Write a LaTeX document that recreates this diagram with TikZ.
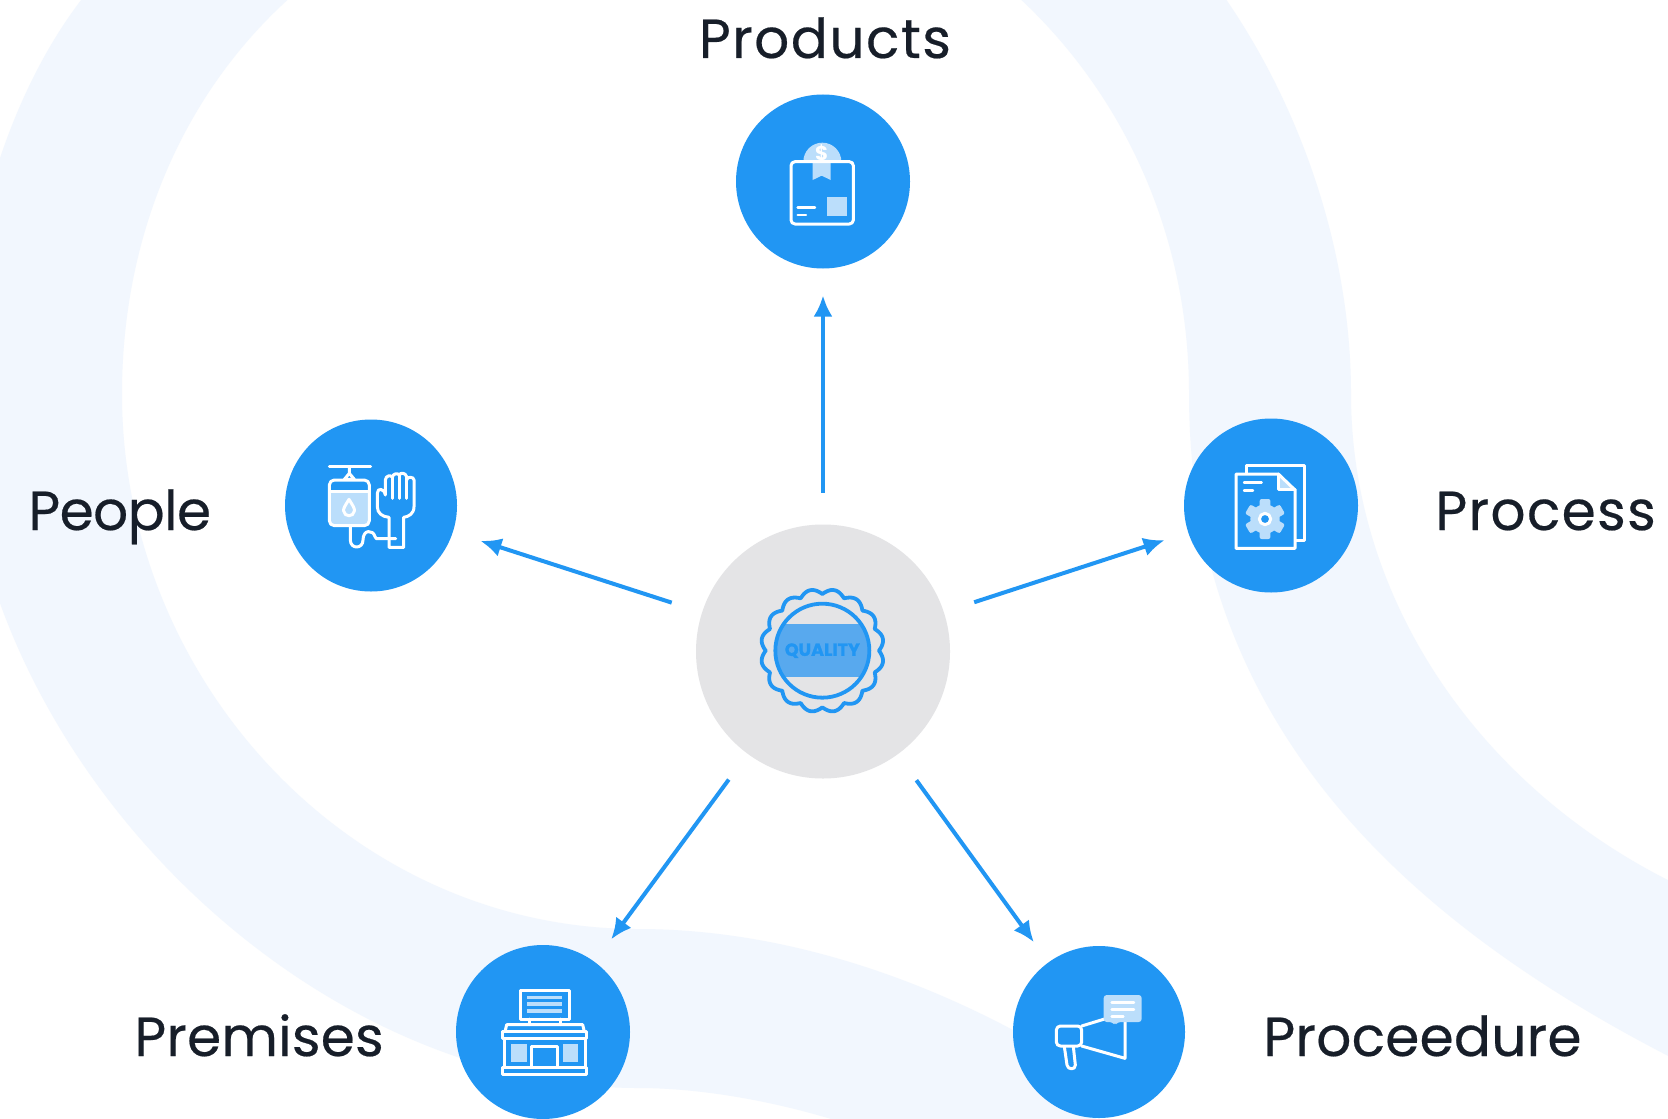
\documentclass[tikz,border=0pt]{standalone}
\usepackage{fontspec}
\setmainfont{Poppins}
\usetikzlibrary{arrows.meta}
\definecolor{qblue}{HTML}{2196F3}
\definecolor{qgrey}{HTML}{E4E4E6}
\definecolor{qband}{HTML}{F2F7FE}
\definecolor{qpale}{HTML}{BBDEFB}
\definecolor{qmid}{HTML}{58A9EE}
\definecolor{qink}{HTML}{171E29}
\newcommand{\spaced}[2]{{\addfontfeature{LetterSpace=#1,FakeBold=0.35}#2}}
\tikzset{
  disc/.style={circle,fill=qblue,minimum size=#1,inner sep=0pt,outer sep=0pt},
  hub/.style={circle,fill=qgrey,minimum size=127pt,inner sep=0pt,outer sep=0pt},
  link/.style={draw=qblue,line width=2pt,-{Latex[length=10.5pt,width=9.5pt]},shorten <=16pt,shorten >=12.5pt},
  title/.style={anchor=base west,text=qink,font=\fontsize{27.5}{32}\selectfont,inner sep=0pt},
  zoomunits/.style={x=0.16667pt,y=-0.16667pt},
  wline/.style={draw=white,line width=1.5pt,line join=round,line cap=round},
  pfill/.style={fill=qpale,draw=none}
}
\begin{document}
\begin{tikzpicture}[x=0.5pt,y=-0.5pt]
\useasboundingbox (0,0) rectangle (1668,1118);
\clip (0,0) rectangle (1668,1118);
\fill[white] (0,0) rectangle (1668,1118);
% background bands
\fill[qband] (85,-5) .. controls (10,90) and (-38,240) .. (-38,394)
  .. controls (-38,750) and (300,1088) .. (638,1088)
  .. controls (710,1088) and (790,1105) .. (850,1125)
  -- (1100,1125) .. controls (1075,1085) and (1045,1050) .. (1013,1030)
  .. controls (900,970) and (770,929) .. (638,929)
  .. controls (350,929) and (122,680) .. (122,394)
  .. controls (122,240) and (180,95) .. (293,-5) -- cycle;
\fill[qband] (1016,-5) .. controls (1120,90) and (1189,230) .. (1189,394)
  .. controls (1189,720) and (1400,920) .. (1680,1062)
  -- (1680,886) .. controls (1480,790) and (1351,600) .. (1351,394)
  .. controls (1351,250) and (1300,105) .. (1223,-5) -- cycle;
% nodes
\node[hub] (quality) at (823,651.5) {};
\node[disc=87pt] (products) at (823,181.5) {};
\node[disc=86pt] (people) at (371,505.5) {};
\node[disc=87pt] (process) at (1271,505.5) {};
\node[disc=87pt] (premises) at (543,1032) {};
\node[disc=86pt] (proceedure) at (1099,1032) {};
% connectors
\draw[link,shorten >=13.5pt] (quality) -- (products);
\draw[link,shorten >=14.5pt] (quality) -- (people);
\draw[link] (quality) -- (process);
\draw[link,shorten >=14pt] (quality) -- (premises);
\draw[link] (quality) -- (proceedure);
% labels
\node[title] (lproducts) at (698.5,58) {\spaced{2.6}{Products}};
\node[title] (lpeople) at (28,530) {\spaced{-1.2}{People}};
\node[title] (lprocess) at (1435,530) {\spaced{2.4}{Process}};
\node[title] (lpremises) at (134,1056) {\spaced{0.3}{Premises}};
\node[title] (lproceedure) at (1263,1056) {\spaced{0.4}{Proceedure}};
% centre seal
\begin{scope}[shift={(690,520)},zoomunits]
  \begin{scope}
    \clip (397,392) circle (141);
    \fill[qmid] (240,312) rectangle (550,472);
  \end{scope}
  \draw[qblue,line width=1.9pt] (397,392) circle (141);
  \draw[qblue,line width=1.9pt,line join=round] plot[domain=0:360,samples=321,variable=\t] ({397+(170+15*abs(sin(8*\t)))*cos(\t)},{392+(170+15*abs(sin(8*\t)))*sin(\t)}) -- cycle;
  \node[text=qblue,font=\fontsize{8.8}{11}\bfseries\selectfont,inner sep=0pt] (qtext) at (397,392) {\addfontfeature{FakeBold=1.2}QUALITY};
\end{scope}
% products icon
\begin{scope}[shift={(720,90)},zoomunits]
  \fill[qpale] (250,215) arc[start angle=180,end angle=360,radius=57] -- cycle;
  \fill[qpale] (278,215) -- (332,215) -- (332,270) -- (305,257) -- (278,270) -- cycle;
  \node[text=white,font=\fontsize{10}{11}\bfseries\selectfont,inner sep=0pt] (dollar) at (305,190) {\$};
  \fill[qpale] (322,320) rectangle (382,378);
  \draw[wline,rounded corners=2pt] (213,215) rectangle (400,402);
  \draw[wline,line width=1.2pt] (233,353) -- (285,353);
  \draw[wline,line width=1.2pt] (233,375) -- (258,375);
\end{scope}
% people icon
\begin{scope}[shift={(275,410)},zoomunits]
  \fill[qpale] (165,243) -- (281,243) -- (281,335) -- (270,345) -- (175,345) -- (165,335) -- cycle;
  \draw[wline,rounded corners=2.5pt] (163,210) rectangle (283,347);
  \draw[wline] (163,170) -- (287,170);
  \draw[wline] (223,170) -- (223,190) -- (208,208) -- (238,208) -- (223,190);
  \draw[wline] (165,243) -- (281,243);
  \draw[wline,fill=qpale] (222,268) .. controls (232,285) and (240,295) .. (238,303) .. controls (236,322) and (208,322) .. (206,303) .. controls (204,295) and (212,285) .. (222,268) -- cycle;
  \draw[wline] (226,347) -- (226,390) .. controls (226,418) and (264,418) .. (264,390) .. controls (264,358) and (294,358) .. (300,380) -- (304,386) -- (362,386);
  \draw[wline] (342,386) -- (342,412) -- (386,412) -- (386,322) .. controls (400,320) and (417,312) .. (417,290) -- (417,210) .. controls (417,200) and (396,198) .. (395,210) -- (395,200) .. controls (392,188) and (375,186) .. (373,196) .. controls (370,188) and (353,190) .. (352,202) .. controls (348,194) and (332,196) .. (331,210) -- (331,255) .. controls (328,235) and (307,232) .. (307,250) -- (307,290) .. controls (307,310) and (322,320) .. (342,322) -- (342,386);
  \draw[wline] (352,202) -- (352,265);
  \draw[wline] (373,196) -- (373,265);
  \draw[wline] (395,210) -- (395,265);
\end{scope}
% process icon
\begin{scope}[shift={(1175,410)},zoomunits]
  \draw[wline] (213,190) -- (213,165) -- (387,165) -- (387,390) -- (362,390);
  \fill[qpale] (312,195) -- (358,238) -- (312,238) -- cycle;
  \draw[wline] (183,192) -- (310,192) -- (360,240) -- (360,415) -- (183,415) -- cycle;
  \draw[wline] (310,192) -- (310,238) -- (360,238);
  \draw[wline,line width=1.2pt] (207,218) -- (260,218);
  \draw[wline,line width=1.2pt] (207,241) -- (234,241);
  \fill[qpale] (270,327) circle (44);
  \foreach \a in {30,90,150,210,270,330}
    \fill[qpale,rotate around={\a:(270,327)},rounded corners=1pt] (296,311) rectangle (330,343);
  \draw[wline,fill=qblue] (270,327) circle (17);
\end{scope}
% premises icon
\begin{scope}[shift={(450,940)},zoomunits]
  \draw[wline] (212,150) rectangle (357,237);
  \draw[qpale,line width=1.7pt] (232,172) -- (335,172) (232,192) -- (335,192) (232,213) -- (335,213);
  \draw[wline] (238,237) -- (238,254) (330,237) -- (330,254);
  \draw[wline] (165,275) -- (170,254) -- (398,254) -- (403,275);
  \draw[wline] (157,275) rectangle (410,295);
  \draw[wline] (163,295) -- (163,380) (405,295) -- (405,380);
  \draw[wline] (157,382) rectangle (410,404);
  \draw[wline] (245,380) -- (245,318) -- (323,318) -- (323,380);
  \fill[qpale] (183,312) rectangle (232,365);
  \fill[qpale] (338,312) rectangle (385,365);
\end{scope}
% proceedure icon
\begin{scope}[shift={(1005,940)},zoomunits]
  \draw[wline,rounded corners=2pt] (154,258) rectangle (230,318);
  \draw[wline] (230,258) -- (305,235);
  \draw[wline] (230,318) -- (360,355) -- (360,245);
  \draw[wline] (178,320) -- (186,375) .. controls (188,390) and (212,390) .. (211,375) -- (205,320);
  \fill[qpale,rounded corners=1.5pt] (296,165) -- (410,165) -- (410,246) -- (338,246) -- (330,256) -- (322,246) -- (296,246) -- cycle;
  \draw[wline,line width=1.2pt] (320,187) -- (387,187);
  \draw[wline,line width=1.2pt] (320,208) -- (387,208);
  \draw[wline,line width=1.2pt] (320,229) -- (355,229);
\end{scope}
\end{tikzpicture}
\end{document}
